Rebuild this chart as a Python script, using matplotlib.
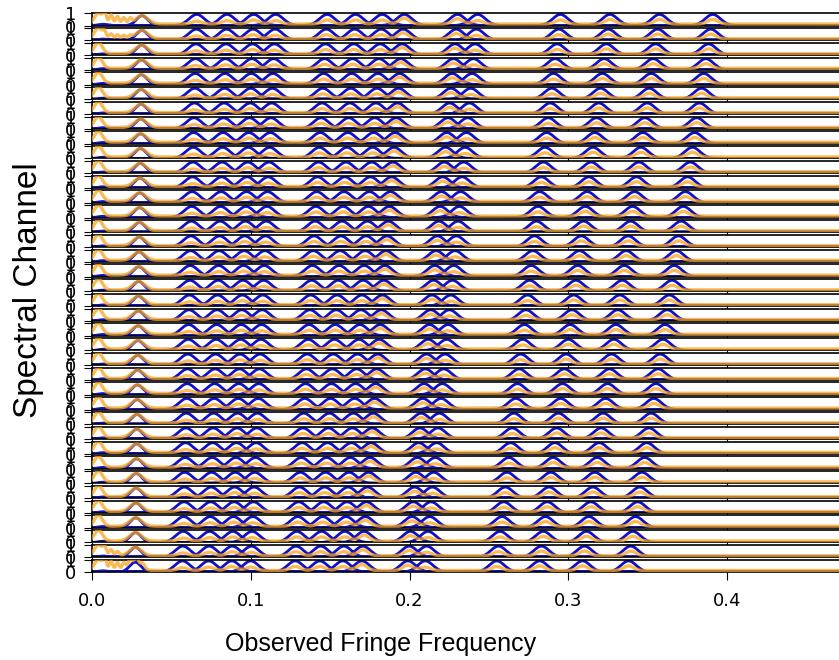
import numpy as np
import matplotlib.pyplot as plt

# fringe peak positions (bottom channel) and measured heights
peak_freq = [0.057, 0.0735, 0.088, 0.100, 0.128, 0.1435, 0.158, 0.170,
             0.199, 0.210, 0.255, 0.282, 0.309, 0.338]
data_amp = [0.35, 0.40, 0.45, 0.40, 0.45, 0.45, 0.45, 0.60,
            0.55, 0.40, 0.45, 0.50, 0.50, 0.50]
model_amp = 0.9

# low frequency bump seen in both model and data
low_freq = 0.0272
low_amp = 0.80

# frequency scale of each spectral channel, top row first
chan_scale = [1.157, 1.153, 1.149, 1.144, 1.140, 1.136, 1.132, 1.127, 1.123, 1.119,
              1.115, 1.110, 1.106, 1.102, 1.098, 1.093, 1.089, 1.085, 1.081, 1.076,
              1.072, 1.068, 1.064, 1.059, 1.055, 1.051, 1.047, 1.042, 1.038, 1.034,
              1.030, 1.025, 1.021, 1.017, 1.013, 1.008, 1.004, 1.000]

# ripple near zero frequency in the edge channels
ripple_f = [0.008, 0.012, 0.016, 0.020, 0.024, 0.028, 0.032]
ripple_top = [0.85, 0.75, 0.62, 0.52, 0.42, 0.0, 0.0]
ripple_2nd = [0.45, 0.40, 0.33, 0.28, 0.22, 0.0, 0.0]
ripple_2last = [0.60, 0.50, 0.35, 0.0, 0.0, 0.0, 0.0]
ripple_last = [0.90, 0.75, 0.65, 0.55, 0.50, 0.40, 0.30]

noise_floor = 0.12


def gauss(x, mu, sig):
    return np.exp(-0.5 * ((x - mu) / sig) ** 2)


f = np.linspace(0, 0.5, 3000)
n = len(chan_scale)
blue = '#1010c8'

fig, axes = plt.subplots(n, 1, sharex=True, figsize=(8.39, 6.6), dpi=100)
fig.subplots_adjust(left=0.1097, right=1.0557, top=0.980, bottom=0.1333)

for i, ax in enumerate(axes):
    s = chan_scale[i]
    # model: one curve per baseline
    ax.plot(f, 0.10 * gauss(f, 0.007, 0.003), color=blue, lw=2.0, zorder=2)
    ax.plot(f, low_amp * gauss(f, low_freq * s, 0.0035), color=blue, lw=2.0, zorder=2)
    for pf in peak_freq:
        ax.plot(f, model_amp * gauss(f, pf * s, 0.0048), color=blue, lw=2.0, zorder=2)

    data = noise_floor + 0.9 * gauss(f, 0.004, 0.0025)
    data = data + (low_amp - noise_floor) * gauss(f, low_freq * s, 0.0038)
    for pf, da in zip(peak_freq, data_amp):
        data = data + (da - noise_floor) * gauss(f, pf * s, 0.0032)
    rip = None
    if i == 0:
        rip = ripple_top
    elif i == 1:
        rip = ripple_2nd
    elif i == n - 2:
        rip = ripple_2last
    elif i == n - 1:
        rip = ripple_last
    if rip is not None:
        for rf, ra in zip(ripple_f, rip):
            data = data + ra * gauss(f, rf, 0.0011)
    ax.plot(f, data, color='#f7a520', lw=2.4, alpha=0.75, zorder=3)
    ax.set_ylim(0, 1)
    ax.set_yticks([0, 1])
    ax.tick_params(labelsize=13, length=5.5, pad=6)
    for sp in ax.spines.values():
        sp.set_linewidth(1.2)

axes[-1].set_xlim(0, 0.5)
axes[-1].set_xticks([0.0, 0.1, 0.2, 0.3, 0.4])
axes[-1].tick_params(axis='x', labelsize=13, pad=9)

fig.text(0.453, 0.025, 'Observed Fringe Frequency', ha='center', va='center',
         fontsize=18, family='Liberation Sans')
fig.text(0.034, 0.56, 'Spectral Channel', ha='center', va='center',
         rotation=90, fontsize=24, family='Liberation Sans')

fig.savefig('out.png', dpi=100)
